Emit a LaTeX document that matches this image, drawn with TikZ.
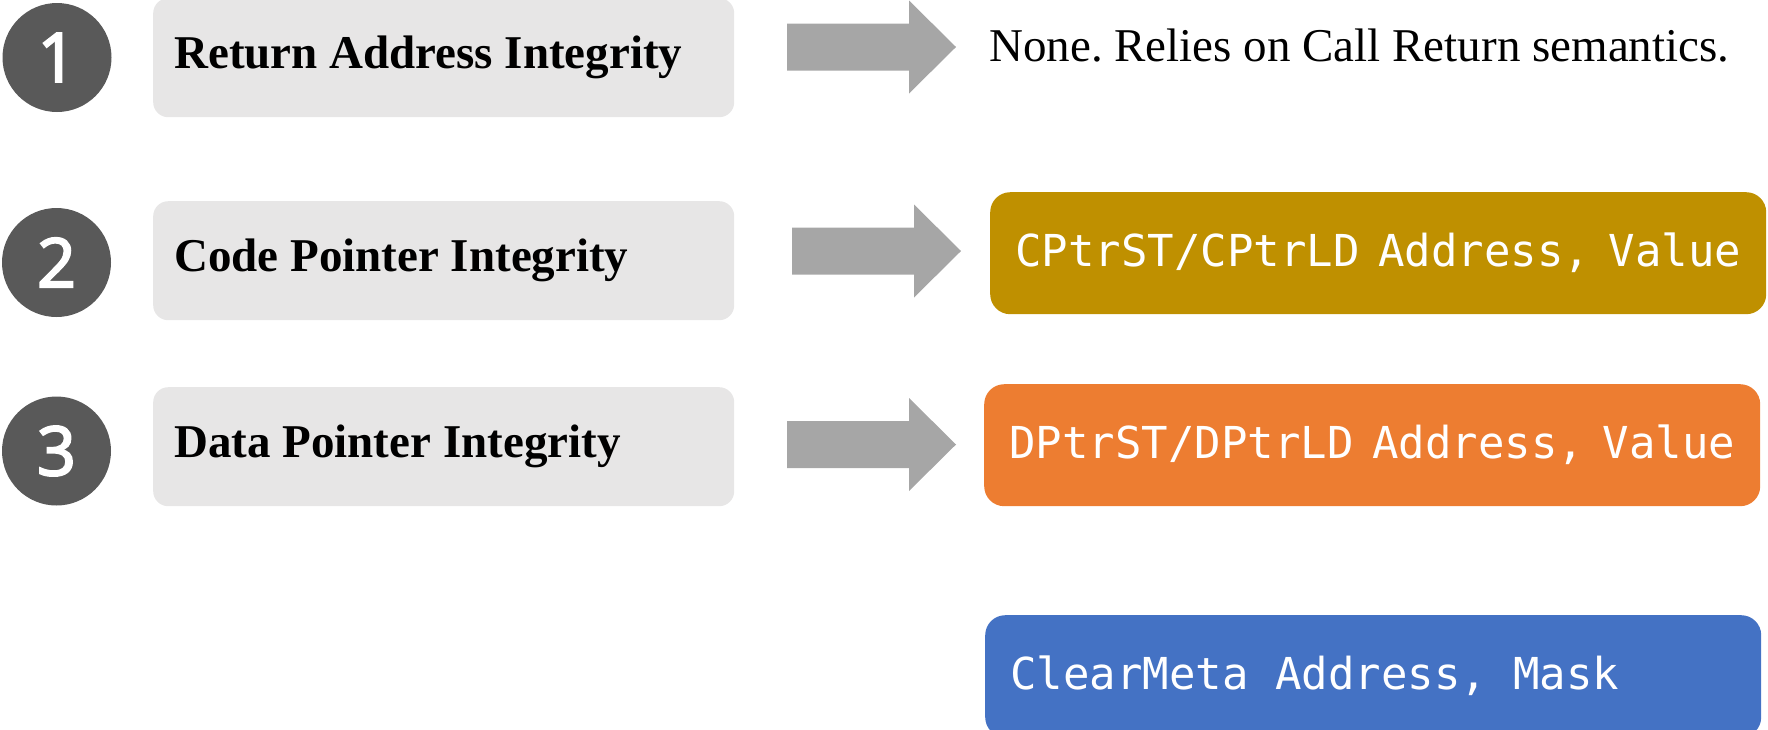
\documentclass[tikz,border=0pt]{standalone}
\usepackage{fontspec}
\setmainfont{Liberation Serif}
\newfontfamily\numfont[FakeBold=3]{Open Sans}
\newfontfamily\codefont{DejaVu Sans Mono}
\usepackage{tikz}
\usetikzlibrary{calc}
\frenchspacing

\definecolor{dotgray}{HTML}{595959}
\definecolor{boxgray}{HTML}{E7E6E6}
\definecolor{arrowgray}{HTML}{A6A6A6}
\definecolor{cptrgold}{HTML}{BF9000}
\definecolor{dptrorange}{HTML}{ED7D31}
\definecolor{metablue}{HTML}{4472C4}

\begin{document}
\begin{tikzpicture}[x=1pt,y=-1pt,
    numdot/.style={circle,fill=dotgray,text=white,minimum size=109pt,inner sep=0pt,font=\numfont\fontsize{68}{68}\selectfont},
    propbox/.style={rectangle,rounded corners=15pt,fill=boxgray,minimum height=119pt,text width=539pt,inner xsep=21pt,align=left,anchor=north west,
      execute at begin node={\spaceskip=0pt\xspaceskip=0pt},font=\bfseries\fontsize{47}{56}\selectfont},
    instrbox/.style={rectangle,rounded corners=20pt,minimum height=122pt,text width=726pt,inner xsep=25pt,align=left,anchor=north west,text=white,
      execute at begin node={\spaceskip=0pt\xspaceskip=0pt},font=\codefont\fontsize{44}{52}\selectfont}]
    \useasboundingbox (0,0) rectangle (1768,729);
    \coordinate (arr1) at (787,47);
    \coordinate (arr2) at (792,251);
    \coordinate (arr3) at (787,444.5);
    \node[numdot] (n1) at (57,57.5) {1};
    \node[numdot] (n2) at (56.5,262.5) {2};
    \node[numdot] (n3) at (56.5,451) {3};
    \node[propbox] (rai) at (153,-2) {Return Address Integrity};
    \node[propbox] (cpi) at (153,201) {Code Pointer Integrity};
    \node[propbox] (dpi) at (153,387) {Data Pointer Integrity};
    % block arrows
    \fill[arrowgray](arr1) ++(0,-23.5) -- ++(122,0) -- ++(0,-23) -- ++(47,46.5) -- ++(-47,46.5) -- ++(0,-23) -- ++(-122,0) -- cycle;
    \fill[arrowgray](arr2) ++(0,-23.5) -- ++(122,0) -- ++(0,-23) -- ++(47,46.5) -- ++(-47,46.5) -- ++(0,-23) -- ++(-122,0) -- cycle;
    \fill[arrowgray](arr3) ++(0,-23.5) -- ++(122,0) -- ++(0,-23) -- ++(47,46.5) -- ++(-47,46.5) -- ++(0,-23) -- ++(-122,0) -- cycle;
    \node[anchor=base west,inner sep=0pt,font=\fontsize{47}{56}\selectfont] (none) at (989,61) {None. Relies on Call Return semantics.};
    \node[instrbox,fill=cptrgold] (cptr) at (990,192) {CPtrST/CPtrLD Address, Value};
    \node[instrbox,fill=dptrorange] (dptr) at (984,384) {DPtrST/DPtrLD Address, Value};
    \node[instrbox,fill=metablue] (meta) at (985,615) {ClearMeta Address, Mask};
  \end{tikzpicture}
\end{document}
